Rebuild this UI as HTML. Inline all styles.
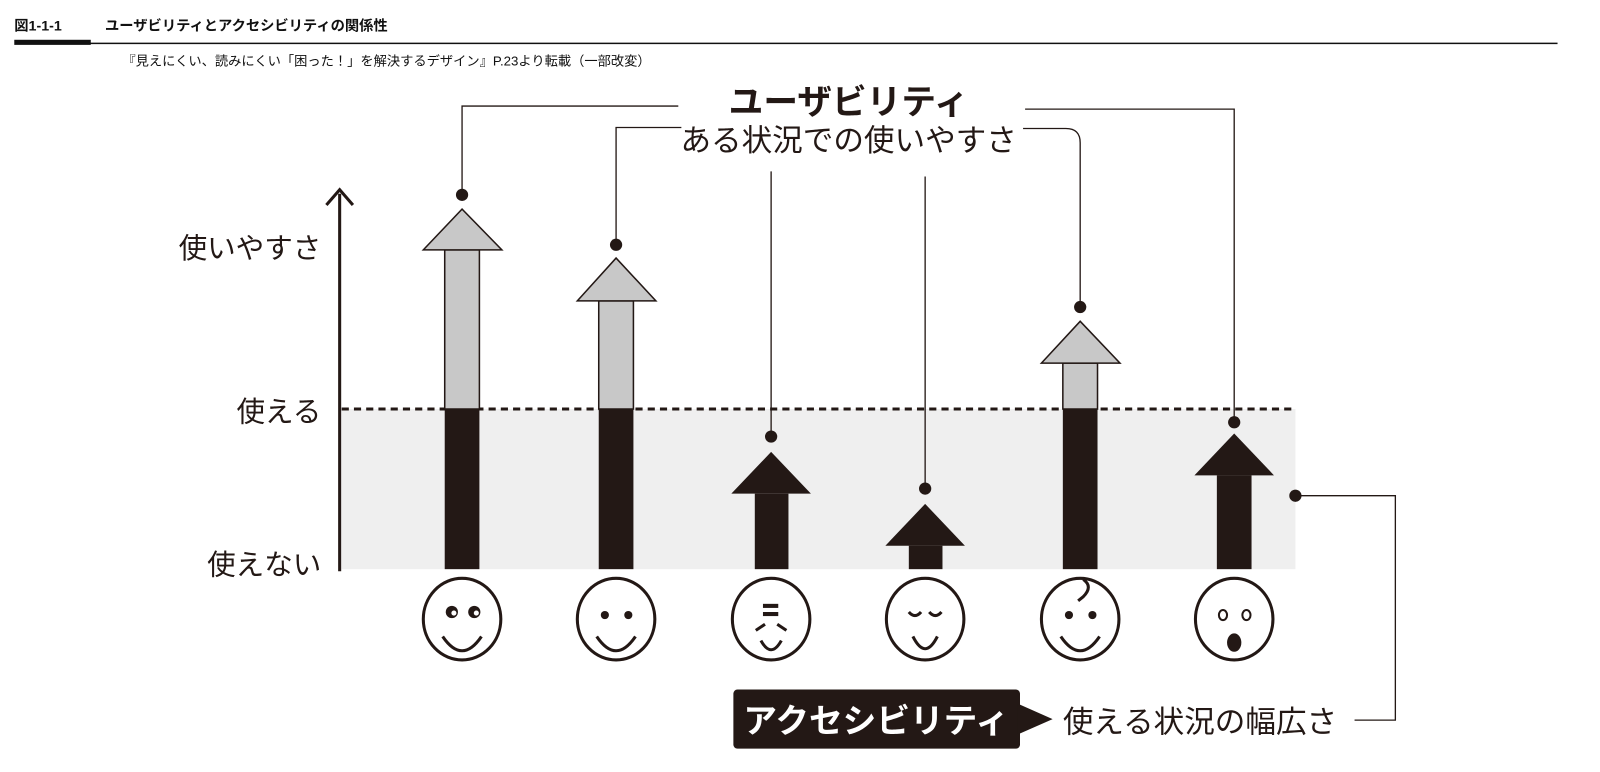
<!DOCTYPE html>
<html><head><meta charset="utf-8"><style>
html,body{margin:0;padding:0;background:#fff;}
svg{display:block;font-family:"Liberation Sans","Noto Sans CJK JP",sans-serif;}
</style></head><body>
<svg width="1600" height="772" viewBox="0 0 1600 772" xmlns="http://www.w3.org/2000/svg">
<g transform="scale(1.02)">
<text x="14" y="30" font-size="14" font-weight="bold" fill="#111">図1-1-1</text>
<text x="103" y="30" font-size="14" font-weight="bold" fill="#111">ユーザビリティとアクセシビリティの関係性</text>
<rect x="14" y="39" width="75" height="5" fill="#111"/>
<line x1="88" y1="42.5" x2="1527" y2="42.5" stroke="#111" stroke-width="1.5"/>
<text x="120" y="64" font-size="13" fill="#111">『見えにくい、読みにくい「困った！」を解決するデザイン』P.23より転載（一部改変）</text>

<rect x="335" y="401" width="935" height="157" fill="#efefef"/>
<line x1="335" y1="401" x2="1270" y2="401" stroke="#231815" stroke-width="3" stroke-dasharray="7,5"/>
<line x1="333" y1="560" x2="333" y2="190" stroke="#231815" stroke-width="3"/>
<polyline points="320,201 333,186 346,201" fill="none" stroke="#231815" stroke-width="3"/>
<g font-size="28" fill="#231815" text-anchor="end">
<text x="315" y="253">使いやすさ</text>
<text x="315" y="413">使える</text>
<text x="315" y="563">使えない</text>
</g>

<g stroke="#231815" stroke-width="1.5">
<rect x="436" y="245" width="34" height="156" fill="#c8c8c8"/>
<polygon points="415,245 453,205 492,245" fill="#c8c8c8"/>
<rect x="587" y="295" width="34" height="106" fill="#c8c8c8"/>
<polygon points="566,295 604,253 643,295" fill="#c8c8c8"/>
<rect x="1042" y="356" width="34" height="45" fill="#c8c8c8"/>
<polygon points="1021,356 1059,315 1098,356" fill="#c8c8c8"/>
</g>
<g fill="#231815">
<rect x="436" y="401" width="34" height="157"/>
<rect x="587" y="401" width="34" height="157"/>
<rect x="1042" y="401" width="34" height="157"/>
<rect x="740" y="484" width="33" height="74"/><polygon points="717,484 756,443 795,484"/>
<rect x="891" y="535" width="33" height="23"/><polygon points="868,535 907,494 946,535"/>
<rect x="1193" y="466" width="34" height="92"/><polygon points="1171,466 1210,425 1249,466"/>
<circle cx="453" cy="191" r="6"/><circle cx="604" cy="240" r="6"/><circle cx="756" cy="428" r="6"/>
<circle cx="907" cy="479" r="6"/><circle cx="1059" cy="301" r="6"/><circle cx="1210" cy="414" r="6"/>
<circle cx="1270" cy="486" r="6"/>
</g>
<g fill="none" stroke="#231815" stroke-width="1.3">
<polyline points="453,191 453,104 665,104"/>
<polyline points="604,240 604,125 668,125"/>
<line x1="756" y1="428" x2="756" y2="168"/>
<line x1="907" y1="479" x2="907" y2="173"/>
<path d="M1059,301 L1059,140 Q1059,126 1045,126 L1003,126"/>
<polyline points="1210,414 1210,107 1005,107"/>
<polyline points="1270,486 1368,486 1368,706 1328,706"/>
</g>
<text x="832" y="112" font-size="34" font-weight="bold" fill="#231815" text-anchor="middle">ユーザビリティ</text>
<text x="832" y="148" font-size="30" fill="#231815" text-anchor="middle">ある状況での使いやすさ</text>

<rect x="719" y="676" width="281" height="58" rx="4" fill="#231815"/>
<polygon points="998,690 1032,705 998,720" fill="#231815"/>
<text x="859" y="718" font-size="33" font-weight="bold" fill="#fff" text-anchor="middle">アクセシビリティ</text>
<text x="1042" y="718" font-size="30" fill="#231815">使える状況の幅広さ</text>

<g fill="none" stroke="#231815" stroke-width="3">
<ellipse cx="453" cy="607" rx="38" ry="40"/>
<ellipse cx="604" cy="607" rx="38" ry="40"/>
<ellipse cx="756" cy="607" rx="38" ry="40"/>
<ellipse cx="907" cy="607" rx="38" ry="40"/>
<ellipse cx="1059" cy="607" rx="38" ry="40"/>
<ellipse cx="1210" cy="607" rx="38" ry="40"/>
<path d="M434,624 Q453,652 472,624"/>
<path d="M585,624 Q604,652 623,624"/>
<path d="M746,628 Q756,646 766,628"/>
<path d="M895,624 Q907,648 919,624"/>
<path d="M1040,624 Q1059,652 1078,624"/>
<path d="M1062,568 Q1072,575 1062,585 L1057,589"/>
<path d="M741,618 L750,612 M771,618 L762,612"/>
<path d="M891,600 Q897,607 903,600 M911,600 Q917,607 923,600"/>
</g>
<g fill="#231815">
<circle cx="443" cy="600" r="6"/><circle cx="465" cy="600" r="6"/>
<circle cx="593" cy="603" r="4"/><circle cx="616" cy="603" r="4"/>
<rect x="748" y="592" width="15" height="4"/><rect x="748" y="600" width="15" height="4"/>
<circle cx="1048" cy="603" r="4"/><circle cx="1071" cy="603" r="4"/>
<ellipse cx="1210" cy="630" rx="7" ry="9"/>
</g>
<g fill="#fff">
<circle cx="445" cy="601" r="2.5"/><circle cx="467" cy="601" r="2.5"/>
</g>
<g fill="none" stroke="#231815" stroke-width="2">
<ellipse cx="1199" cy="603" rx="4" ry="5"/><ellipse cx="1222" cy="603" rx="4" ry="5"/>
</g>
</g>
</svg>
</body></html>
